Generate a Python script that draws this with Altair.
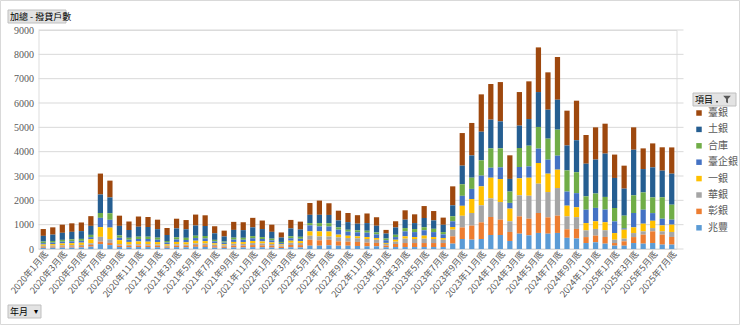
import altair as alt
import pandas as pd

# Categories
months = [f"{y}年{m}月底" for y in range(2020, 2026) for m in range(1, 13)][:67]
tick_months = months[::2]
series = ["臺銀", "土銀", "合庫", "臺企銀", "一銀", "華銀", "彰銀", "兆豐"]
colors = ["#9E480E", "#255E91", "#70AD47", "#4472C4", "#FFC000", "#A5A5A5", "#ED7D31", "#5B9BD5"]
y_ticks = [0, 1000, 2000, 3000, 4000, 5000, 6000, 7000, 8000, 9000]

# Values per series (2020年1月底 ... 2025年7月底)
v_zhaofeng = [50, 55, 60, 60, 65, 95, 200, 160, 80, 70,
              80, 80, 70, 50, 75, 70, 90, 85, 55, 45,
              65, 65, 75, 70, 60, 40, 70, 65, 135, 135,
              150, 135, 135, 125, 110, 110, 70, 80, 80, 80,
              80, 80, 80, 220, 410, 385, 410, 575, 575, 330,
              630, 560, 660, 630, 660, 460, 430, 245, 275, 220,
              135, 135, 245, 220, 245, 180, 180]
v_changyin = [40, 45, 50, 50, 55, 70, 100, 90, 60, 55,
              60, 60, 60, 45, 60, 60, 70, 70, 60, 50,
              75, 75, 85, 80, 75, 55, 95, 95, 245, 220,
              230, 180, 165, 165, 150, 140, 70, 125, 165, 165,
              165, 165, 165, 300, 475, 575, 685, 740, 630, 370,
              710, 685, 820, 670, 710, 350, 395, 245, 275, 275,
              110, 180, 245, 370, 480, 410, 315]
v_huayin = [40, 40, 45, 50, 50, 70, 200, 150, 60, 55,
            60, 60, 55, 40, 60, 55, 70, 70, 60, 55,
            75, 70, 85, 80, 70, 55, 90, 85, 165, 165,
            135, 165, 150, 150, 150, 130, 70, 95, 180, 165,
            180, 165, 135, 275, 480, 520, 700, 765, 725, 440,
            865, 945, 1205, 1040, 1135, 530, 485, 275, 275, 275,
            135, 110, 165, 135, 135, 135, 205]
v_yiyin = [55, 60, 75, 80, 90, 165, 400, 480, 160, 110,
           110, 100, 100, 65, 95, 90, 110, 100, 60, 45,
           75, 75, 85, 80, 65, 40, 85, 80, 180, 205,
           205, 110, 95, 80, 80, 70, 40, 80, 95, 80,
           125, 80, 70, 110, 410, 575, 780, 850, 945, 520,
           700, 740, 850, 755, 755, 440, 405, 300, 315, 330,
           275, 370, 235, 315, 300, 245, 300]
v_taiqiyin = [55, 60, 70, 75, 75, 85, 380, 320, 100, 90,
              100, 110, 95, 70, 100, 95, 110, 110, 80, 65,
              95, 95, 110, 100, 85, 55, 100, 95, 245, 205,
              205, 205, 165, 165, 180, 150, 110, 110, 205, 205,
              220, 205, 150, 235, 410, 415, 440, 410, 480, 235,
              465, 465, 590, 575, 575, 580, 580, 550, 550, 520,
              480, 55, 590, 575, 315, 275, 205]
v_heku = [65, 70, 75, 80, 80, 95, 200, 270, 100, 80,
          95, 95, 85, 60, 90, 90, 95, 100, 60, 45,
          80, 80, 90, 80, 70, 45, 85, 80, 95, 135,
          135, 95, 80, 80, 80, 80, 70, 95, 135, 125,
          125, 135, 95, 205, 475, 460, 630, 795, 780, 465,
          780, 850, 890, 865, 1070, 870, 860, 550, 590, 520,
          550, 520, 725, 710, 645, 880, 615]
v_tuyin = [235, 260, 290, 310, 320, 370, 760, 650, 390, 320,
           410, 400, 350, 250, 365, 350, 420, 410, 270, 210,
           320, 315, 360, 330, 280, 180, 320, 300, 340, 340,
           340, 285, 315, 275, 315, 275, 205, 300, 345, 245,
           380, 345, 300, 450, 765, 915, 1175, 1180, 1110, 520,
           920, 1095, 1435, 1190, 1230, 1025, 1315, 1340, 1395, 1780,
           1235, 1110, 1875, 960, 1235, 1095, 1275]
v_taiyin = [280, 300, 335, 350, 355, 400, 860, 690, 420, 350,
            420, 410, 390, 280, 400, 380, 450, 440, 290, 240,
            330, 325, 390, 350, 295, 210, 350, 325, 485, 585,
            480, 400, 375, 350, 395, 350, 150, 255, 385, 360,
            490, 385, 295, 780, 1340, 1335, 1535, 1465, 1615, 970,
            1380, 1550, 1835, 1535, 1755, 1430, 1625, 1180, 1325, 1230,
            960, 945, 920, 850, 985, 960, 1080]

values = {"臺銀": v_taiyin, "土銀": v_tuyin, "合庫": v_heku, "臺企銀": v_taiqiyin,
          "一銀": v_yiyin, "華銀": v_huayin, "彰銀": v_changyin, "兆豐": v_zhaofeng}

rows = []
for s in series:
    rank = len(series) - 1 - series.index(s)  # 兆豐 at bottom
    for m, v in zip(months, values[s]):
        rows.append({"年月": m, "項目": s, "撥貸戶數": v, "序": rank})
df = pd.DataFrame(rows)
grid_df = pd.DataFrame({"撥貸戶數": y_ticks})
one = pd.DataFrame({"a": [0]})

W, H = 638, 219
L, T = 38.5, 30
FONT = "Noto Sans CJK TC"
LABEL_C = "#595959"

y_axis = alt.Axis(values=y_ticks, grid=False, domain=False, ticks=False, format="d",
                  title=None, labelFontSize=10, labelColor=LABEL_C,
                  labelFont="Liberation Serif", labelPadding=5)
y_scale = alt.Scale(domain=[0, 9000])

grid = alt.Chart(grid_df).mark_rule(color="#D9D9D9", strokeWidth=1).encode(
    y=alt.Y("撥貸戶數:Q", scale=y_scale, axis=y_axis),
    x=alt.value(0),
    x2=alt.value(645),
)

bars = alt.Chart(df).mark_bar().encode(
    x=alt.X("年月:N", sort=months,
            scale=alt.Scale(paddingInner=0.45, paddingOuter=0.225),
            axis=alt.Axis(values=tick_months, labelAngle=-50, labelFontSize=9,
                          labelColor=LABEL_C, labelFont=FONT, domain=False, ticks=False,
                          title=None, labelPadding=3, labelOffset=3, labelOverlap=False)),
    y=alt.Y("撥貸戶數:Q", stack="zero", scale=y_scale, axis=y_axis),
    color=alt.Color("項目:N", scale=alt.Scale(domain=series, range=colors),
                    legend=alt.Legend(title=None, orient="none", legendX=655.5, legendY=78,
                                      symbolType="square", symbolSize=30, symbolStrokeWidth=0,
                                      labelFontSize=10, labelColor=LABEL_C, labelFont=FONT,
                                      rowPadding=6.4, labelOffset=4, padding=0)),
    order=alt.Order("序:Q", sort="ascending"),
)

def box(x0, x1, y0, y1, fill="#E3E3E3", stroke="#BFBFBF"):
    return alt.Chart(one).mark_rect(fill=fill, stroke=stroke, strokeWidth=1).encode(
        x=alt.value(x0 - L), x2=alt.value(x1 - L), y=alt.value(y0 - T), y2=alt.value(y1 - T))

def label(txt, x, y, size=9, align="left", color="#000000", font=FONT):
    return alt.Chart(one).mark_text(text=txt, fontSize=size, align=align, baseline="middle",
                                    color=color, font=font).encode(
        x=alt.value(x - L), y=alt.value(y - T))

frame = alt.Chart(one).mark_rect(fill="transparent", stroke="#D9D9D9", strokeWidth=1).encode(
    x=alt.value(0.5 - L), x2=alt.value(739.5 - L), y=alt.value(0.5 - T), y2=alt.value(324.5 - T))

funnel = alt.Chart(one).mark_point(
    shape="M-1,-1L1,-1L0.25,-0.1L0.25,1L-0.25,0.7L-0.25,-0.1Z",
    filled=True, color="#595959", size=60, opacity=1).encode(
    x=alt.value(727 - L), y=alt.value(99.5 - T))

dot = alt.Chart(one).mark_rect(fill="#404040").encode(
    x=alt.value(716 - L), x2=alt.value(718 - L), y=alt.value(101 - T), y2=alt.value(102.5 - T))

chart = alt.layer(
    grid,
    bars,
    frame,
    box(8, 66, 10, 23),
    label("加總 - 撥貸戶數", 10, 16.5, size=9),
    box(8, 41, 305, 318),
    label("年月", 10, 311.5, size=9),
    label("▾", 36, 311.5, size=8, align="center"),
    box(693, 736, 93, 106),
    label("項目", 695, 99.5, size=9),
    dot,
    funnel,
).properties(
    width=W, height=H,
    padding={"left": L, "top": T, "right": 740 - L - W, "bottom": 325 - T - H},
    autosize=alt.AutoSizeParams(type="none"),
).configure_view(stroke=None).configure(font=FONT, background="white")

chart.save("out.html", embed_options={"renderer": "svg", "actions": False})
